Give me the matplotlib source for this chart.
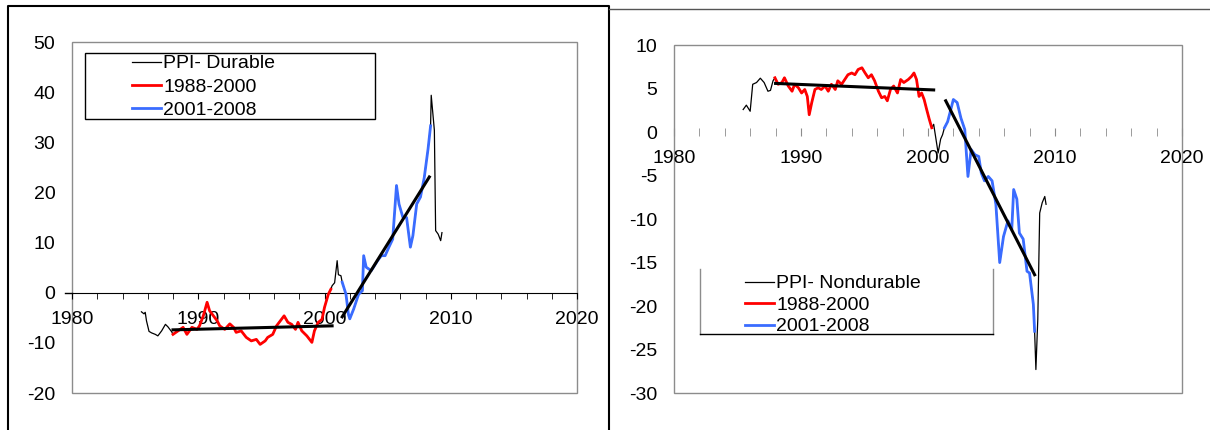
import numpy as np
import matplotlib
matplotlib.use('Agg')
import matplotlib.pyplot as plt
from matplotlib.patches import Rectangle
from matplotlib.lines import Line2D

plt.rcParams['font.family'] = ['Liberation Sans', 'DejaVu Sans']
plt.rcParams['font.size'] = 14
plt.rcParams['axes.unicode_minus'] = False

# ---- PPI durable (left panel) ----
dur_pre_x = [1985.5, 1985.7, 1985.8, 1985.9, 1986.1, 1986.3, 1986.6, 1986.8, 1987.1, 1987.4, 1987.6, 1987.9, 1988.0]
dur_pre_y = [-3.8, -4.2, -3.9, -5.6, -7.7, -8.0, -8.3, -8.6, -7.6, -6.3, -6.8, -7.8, -8.3]
dur_red_x = [1988.0, 1988.4, 1988.8, 1989.1, 1989.5, 1989.9, 1990.1, 1990.4, 1990.7, 1990.9, 1991.2, 1991.5,
             1991.7, 1992.1, 1992.5, 1992.8, 1993.0, 1993.4, 1993.8, 1994.2, 1994.6, 1994.9, 1995.3, 1995.5,
             1995.9, 1996.2, 1996.5, 1996.8, 1997.1, 1997.4, 1997.7, 1997.9, 1998.2, 1998.6, 1999.0, 1999.2,
             1999.5, 1999.8, 2000.0, 2000.3, 2000.5]
dur_red_y = [-8.3, -7.6, -6.9, -8.3, -6.9, -7.3, -6.6, -4.6, -1.9, -3.6, -4.6, -5.6,
             -6.6, -7.3, -6.2, -6.9, -7.9, -7.6, -8.9, -9.6, -9.3, -10.3, -9.6, -8.9,
             -8.3, -6.6, -5.6, -4.6, -5.9, -6.3, -7.3, -5.9, -7.6, -8.6, -9.9, -7.6,
             -5.9, -5.3, -2.9, -0.3, 0.7]
dur_mid_x = [2000.5, 2000.6, 2000.8, 2001.0, 2001.1, 2001.3, 2001.4]
dur_mid_y = [0.7, 1.4, 2.0, 6.4, 3.6, 3.4, 2.1]
dur_blue_x = [2001.4, 2001.7, 2001.9, 2002.0, 2002.3, 2002.7, 2003.0, 2003.1, 2003.3, 2003.7, 2004.2, 2004.5,
              2004.8, 2005.1, 2005.4, 2005.7, 2005.9, 2006.2, 2006.5, 2006.8, 2007.0, 2007.3, 2007.6, 2007.9,
              2008.2, 2008.4]
dur_blue_y = [2.1, -0.3, -4.4, -5.2, -3.3, -0.3, 0.4, 7.4, 5.1, 4.4, 6.4, 7.4,
              7.4, 9.1, 10.7, 21.4, 17.7, 15.1, 15.0, 9.1, 11.4, 17.7, 19.1, 23.0,
              28.7, 33.3]
dur_post_x = [2008.4, 2008.45, 2008.7, 2008.8, 2009.0, 2009.2, 2009.3]
dur_post_y = [33.3, 39.4, 32.4, 12.4, 11.7, 10.4, 12.0]
dur_trend1 = ([1988.0, 2000.6], [-7.4, -6.6])
dur_trend2 = ([2001.4, 2008.3], [-4.8, 23.1])

# ---- PPI nondurable (right panel) ----
nd_pre_x = [1985.45, 1985.7, 1986.0, 1986.2, 1986.5, 1986.8, 1987.1, 1987.4, 1987.6, 1987.8, 1987.95]
nd_pre_y = [2.6, 3.1, 2.4, 5.5, 5.7, 6.2, 5.7, 4.7, 4.8, 5.9, 6.25]
nd_red_x = [1987.95, 1988.2, 1988.5, 1988.7, 1989.0, 1989.3, 1989.5, 1989.8, 1990.05, 1990.3, 1990.5, 1990.65,
            1990.85, 1991.1, 1991.35, 1991.6, 1991.9, 1992.15, 1992.4, 1992.7, 1992.9, 1993.2, 1993.45,
            1993.7, 1994.0, 1994.25, 1994.5, 1994.8, 1995.05, 1995.3, 1995.55, 1995.8, 1996.1, 1996.35,
            1996.6, 1996.8, 1997.05, 1997.3, 1997.6, 1997.85, 1998.1, 1998.45, 1998.7, 1998.9, 1999.1,
            1999.3, 1999.5, 1999.7, 1999.9, 2000.1, 2000.3]
nd_red_y = [6.25, 5.5, 5.7, 6.25, 5.3, 4.7, 5.5, 5.1, 4.5, 4.9, 4.1, 2.0,
            3.4, 4.9, 5.1, 4.9, 5.3, 4.7, 5.5, 4.9, 5.9, 5.5, 6.05,
            6.6, 6.8, 6.6, 7.2, 7.4, 6.8, 6.25, 6.6, 5.9, 4.7, 3.95,
            4.1, 3.6, 4.9, 5.3, 4.5, 6.05, 5.7, 6.05, 6.4, 6.8, 6.05,
            4.1, 4.5, 3.75, 2.6, 1.5, 0.5]
nd_mid_x = [2000.3, 2000.45, 2000.6, 2000.8, 2001.0, 2001.15, 2001.3]
nd_mid_y = [0.5, 0.9, -0.5, -2.4, -0.8, -0.3, 0.5]
nd_blue_x = [2001.3, 2001.55, 2001.8, 2002.0, 2002.3, 2002.6, 2002.9, 2003.15, 2003.4, 2003.7, 2004.0, 2004.2,
             2004.45, 2004.75, 2005.05, 2005.35, 2005.65, 2005.95, 2006.3, 2006.6, 2006.75, 2007.0, 2007.2,
             2007.5, 2007.8, 2008.0, 2008.3, 2008.4]
nd_blue_y = [0.5, 1.2, 2.6, 3.75, 3.4, 1.6, 0.3, -5.1, -2.0, -2.6, -2.8, -4.7,
             -5.6, -5.1, -5.6, -8.3, -15.0, -12.0, -10.2, -11.2, -6.6, -7.7, -11.6,
             -12.3, -16.0, -16.2, -19.8, -22.9]
nd_post_x = [2008.4, 2008.5, 2008.65, 2008.8, 2009.0, 2009.2, 2009.3]
nd_post_y = [-22.9, -27.3, -21.5, -9.3, -8.1, -7.4, -8.3]
nd_trend1 = ([1988.0, 2000.45], [5.6, 4.85])
nd_trend2 = ([2001.4, 2008.4], [3.6, -16.4])

RED = '#ff0000'
BLUE = '#3a6cff'


def draw_panel(ax, pre, red, mid, blue, post, t1, t2, ylim, yticks, name,
               legend_box, legend_anchor, legend_gap, left_style):
    all_x = np.concatenate([pre[0], red[0], mid[0], blue[0], post[0]])
    all_y = np.concatenate([pre[1], red[1], mid[1], blue[1], post[1]])
    ax.plot(all_x, all_y, color='black', lw=0.9, zorder=2)
    ax.plot(red[0], red[1], color=RED, lw=2.0, zorder=3)
    ax.plot(blue[0], blue[1], color=BLUE, lw=2.0, zorder=3)
    ax.plot(t1[0], t1[1], color='black', lw=2.2, zorder=4)
    ax.plot(t2[0], t2[1], color='black', lw=2.2, zorder=4)

    ax.set_xlim(1980, 2020)
    ax.set_ylim(*ylim)
    ax.set_yticks(yticks)
    ax.set_xticks([1980, 1990, 2000, 2010, 2020])
    ax.set_xticks(np.arange(1980, 2021, 2), minor=True)

    for s in ['left', 'right', 'top']:
        ax.spines[s].set_visible(False)
    ax.spines['bottom'].set_position(('data', 0))
    ax.add_patch(Rectangle((0, 0), 1, 1, transform=ax.transAxes, fill=False,
                           edgecolor='#8c8c8c', lw=1.0, clip_on=False, zorder=1))
    ax.tick_params(axis='y', length=0, pad=12)
    if left_style:
        ax.spines['bottom'].set_color('black')
        ax.tick_params(axis='x', which='both', direction='out', length=4, color='black', pad=9)
        # axis line pokes out a little left of the frame
        ax.plot([-0.014, 0], [0, 0], color='black', lw=1.0, transform=ax.get_yaxis_transform(), clip_on=False)
    else:
        ax.spines['bottom'].set_linewidth(0)
        ax.tick_params(axis='x', which='both', direction='inout', length=6, color='#8c8c8c', pad=10)

    handles = [Line2D([], [], color='black', lw=0.9),
               Line2D([], [], color=RED, lw=2.0),
               Line2D([], [], color=BLUE, lw=2.0)]
    ax.legend(handles, [name, '1988-2000', '2001-2008'], frameon=False, loc='upper left',
              bbox_to_anchor=legend_anchor, borderaxespad=0, borderpad=0,
              handlelength=1.5, handletextpad=0.1, labelspacing=legend_gap, fontsize=14)
    x0, x1, y0, y1 = legend_box
    if left_style:
        ax.add_patch(Rectangle((x0, y0), x1 - x0, y1 - y0, transform=ax.transAxes, fill=False,
                               edgecolor='black', lw=1.0, zorder=5))
    else:
        ax.plot([x0, x0], [y1, y0], color='#8c8c8c', lw=1.0, transform=ax.transAxes)
        ax.plot([x1, x1], [y1, y0], color='#8c8c8c', lw=1.0, transform=ax.transAxes)
        ax.plot([x0, x1], [y0, y0], color='black', lw=1.0, transform=ax.transAxes)


fig = plt.figure(figsize=(12.1, 4.3), dpi=100)
ax1 = fig.add_axes([0.0595, 0.086, 0.4174, 0.816])
ax2 = fig.add_axes([0.557, 0.086, 0.4198, 0.809])

draw_panel(ax1, (dur_pre_x, dur_pre_y), (dur_red_x, dur_red_y), (dur_mid_x, dur_mid_y),
           (dur_blue_x, dur_blue_y), (dur_post_x, dur_post_y), dur_trend1, dur_trend2,
           (-20, 50), np.arange(-20, 51, 10), 'PPI- Durable',
           (0.026, 0.600, 0.780, 0.969), (0.119, 0.964), 0.3, True)
draw_panel(ax2, (nd_pre_x, nd_pre_y), (nd_red_x, nd_red_y), (nd_mid_x, nd_mid_y),
           (nd_blue_x, nd_blue_y), (nd_post_x, nd_post_y), nd_trend1, nd_trend2,
           (-30, 10), np.arange(-30, 11, 5), 'PPI- Nondurable',
           (0.051, 0.628, 0.170, 0.356), (0.140, 0.340), 0.2, False)

# panel frames
fig.add_artist(Line2D([0.0066, 0.0066, 0.503, 0.503], [0.0, 0.986, 0.986, 0.0], color='black', lw=1.5))
fig.add_artist(Line2D([0.503, 1.0], [0.979, 0.979], color='#555555', lw=1.0))

fig.savefig('out.png', dpi=100)
